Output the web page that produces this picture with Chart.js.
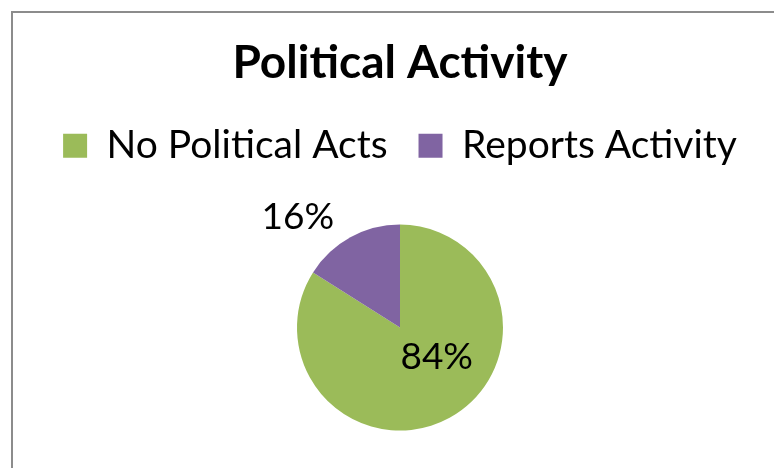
<!DOCTYPE html>
<html>
<head>
<meta charset="utf-8">
<script src="https://cdn.jsdelivr.net/npm/chart.js@4/dist/chart.umd.min.js"></script>
<style>
  html, body { margin: 0; padding: 0; background: #fff; overflow: hidden; }
  #frame {
    position: absolute; left: 11px; top: 11px;
    width: 800px; height: 520px;
    border: 2px solid #8c8c8c; box-sizing: border-box;
  }
  #wrap { position: absolute; left: 14px; top: 14px; width: 772px; height: 500px; }
</style>
</head>
<body>
<div id="frame"></div>
<div id="wrap"><canvas id="pie-chart"></canvas></div>
<script>
// Chart data
const chartTitle = 'Political Activity';
const categories = ['No Political Acts', 'Reports Activity'];
const shares = [84, 16];
const sliceColors = ['#9BBB59', '#8064A2'];

const FONT = 'Lato, "Open Sans", sans-serif';

// Percent labels, placed relative to each slice (angle shift in degrees, distance as fraction of radius)
const pctLabels = {
    id: 'pctLabels',
    afterDatasetsDraw(chart, args, opts) {
        const ctx = chart.ctx;
        const meta = chart.getDatasetMeta(0);
        const values = chart.data.datasets[0].data;
        const total = values.reduce((a, b) => a + b, 0);
        ctx.save();
        ctx.font = opts.size + 'px ' + FONT;
        ctx.fillStyle = '#000';
        ctx.textAlign = 'center';
        ctx.textBaseline = 'middle';
        meta.data.forEach((arc, i) => {
            const p = arc.getProps(['x', 'y', 'startAngle', 'endAngle', 'outerRadius'], true);
            const place = opts.place[i];
            const ang = (p.startAngle + p.endAngle) / 2 + place.shift * Math.PI / 180;
            const d = p.outerRadius * place.dist;
            const text = Math.round(values[i] / total * 100) + '%';
            ctx.fillText(text, p.x + Math.cos(ang) * d, p.y + Math.sin(ang) * d);
        });
        ctx.restore();
    }
};

const pieChart = new Chart(document.getElementById('pie-chart').getContext('2d'), {
    type: 'pie',
    data: {
        labels: categories,
        datasets: [{
            data: shares,
            backgroundColor: sliceColors,
            borderWidth: 0,
            radius: 103
        }]
    },
    options: {
        responsive: true,
        maintainAspectRatio: false,
        animation: false,
        layout: { padding: { bottom: 34 } },
        plugins: {
            title: {
                display: true,
                text: chartTitle,
                color: '#000',
                font: { family: FONT, size: 46, weight: 'bold' },
                padding: { top: 22, bottom: 4 }
            },
            legend: {
                position: 'top',
                labels: {
                    color: '#000',
                    boxWidth: 24,
                    boxHeight: 24,
                    padding: 31,
                    font: { family: FONT, size: 39 }
                }
            },
            tooltip: { enabled: false },
            pctLabels: {
                size: 37,
                place: [
                    { shift: -22, dist: 0.46 },
                    { shift: -14, dist: 1.46 }
                ]
            }
        }
    },
    plugins: [pctLabels]
});
</script>
</body>
</html>
